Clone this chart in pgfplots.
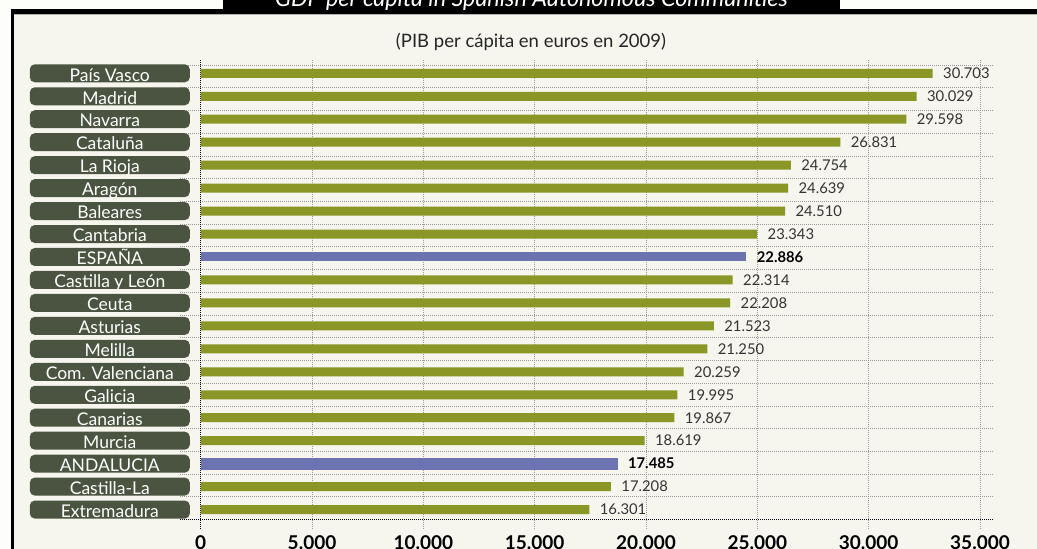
\documentclass[border=0pt]{standalone}
\usepackage{fontspec}
\setmainfont{Lato}
\usepackage{pgfplots}
\pgfplotsset{compat=1.18}
\definecolor{bg}{HTML}{F6F5EE}
\definecolor{outer}{HTML}{FDFDF9}
\definecolor{barg}{HTML}{8A9625}
\definecolor{barb}{HTML}{6B74B0}
\definecolor{boxg}{HTML}{4A5440}
\definecolor{gridc}{HTML}{9A9A9A}
\definecolor{valc}{HTML}{333333}
\begin{document}
\begin{tikzpicture}[x=1pt,y=1pt]
\fill[outer] (0,0) rectangle (1037,549);
\fill[bg] (12,0) rectangle (1037,537);
% frame
\fill[black] (10.7,0) rectangle (14,539.7);
\fill[black] (10.7,535) rectangle (1037,539.7);
\fill[black] (223,535) rectangle (840,549);
\draw[gray!60, line width=0.8pt] (14,534.4) -- (1037,534.4);
\node[text=white, anchor=base, inner sep=0pt, font=\fontsize{23.3}{23.3}\selectfont\itshape] at (531.5,542.5) {GDP per capita in Spanish Autonomous Communities};
\node[text=black!85, anchor=center, inner sep=0pt, font=\fontsize{18.5}{18.5}\selectfont] at (531,507) {(PIB per cápita en euros en 2009)};

% grid axis
\begin{axis}[
  at={(180pt,19pt)}, anchor=south west, scale only axis,
  width=813pt, height=470pt,
  xmin=-929.7, xmax=35583, ymin=-0.22, ymax=20.457, y dir=reverse,
  axis line style={draw=none}, major tick length=0pt,
  xtick={5000,10000,15000,20000,25000,30000,35000},
  xticklabels={5.000,10.000,15.000,20.000,25.000,30.000,35.000},
  extra x ticks={0}, extra x tick labels={0},
  extra x tick style={major grid style={black, dash pattern=on 1pt off 1pt, line width=0.8pt}},
  xticklabel style={anchor=base, yshift=-19.8pt, font=\fontsize{19}{19}\selectfont\bfseries, text=black},
  ytick={0,...,19}, yticklabels={}, yticklabel style={opacity=0},
  extra y ticks={20}, extra y tick labels={},
  extra y tick style={major grid style={black, dash pattern=on 1pt off 1pt, line width=0.8pt}},
  xmajorgrids, ymajorgrids,
  major grid style={gridc, dash pattern=on 1pt off 1pt, line width=0.8pt},
]
\end{axis}

% bars axis
\begin{axis}[
  at={(180pt,19pt)}, anchor=south west, scale only axis,
  width=813pt, height=470pt,
  xmin=-868.3, xmax=33234, ymin=-0.579, ymax=19.89, y dir=reverse,
  axis line style={draw=none}, major tick length=0pt,
  xtick=\empty,
  ytick={0,...,19},
  yticklabels={País Vasco,Madrid,Navarra,Cataluña,La Rioja,Aragón,Baleares,Cantabria,ESPAÑA,Castilla y León,Ceuta,Asturias,Melilla,Com. Valenciana,Galicia,Canarias,Murcia,ANDALUCIA,Castilla-La,Extremadura},
  yticklabel style={anchor=east, xshift=10pt, fill=boxg, text=white, rounded corners=5pt,
    minimum width=160pt, minimum height=18pt, inner sep=0pt, text height=15.5pt, text depth=0pt,
    font=\fontsize{17.5}{17.5}\selectfont},
  xbar, bar shift=0pt, bar width=9pt, clip=false,
  point meta=x,
  /pgf/number format/assume math mode=true,
  nodes near coords={\pgfmathprintnumber[1000 sep={.}]{\pgfplotspointmeta}},
  every node near coord/.append style={anchor=west, xshift=7pt, text=valc, font=\fontsize{14.8}{14.8}\selectfont},
]
\addplot[fill=barg, draw=none] coordinates {
(30703,0) (30029,1) (29598,2) (26831,3) (24754,4) (24639,5) (24510,6) (23343,7)
(22314,9) (22208,10) (21523,11) (21250,12) (20259,13) (19995,14) (19867,15) (18619,16)
(17208,18) (16301,19)};
\addplot[fill=barb, draw=none, every node near coord/.append style={text=black, font=\fontsize{14.8}{14.8}\selectfont\bfseries}] coordinates {(22886,8)};
\addplot[fill=barb, draw=none, bar width=12pt, every node near coord/.append style={text=black, font=\fontsize{14.8}{14.8}\selectfont\bfseries}] coordinates {(17485,17)};
\end{axis}
\pgfresetboundingbox
\useasboundingbox (0,0) rectangle (1037,549);
\end{tikzpicture}
\end{document}
